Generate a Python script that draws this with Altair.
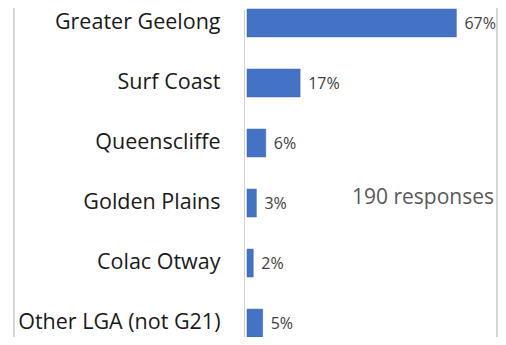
import altair as alt
import pandas as pd

categories = ["Greater Geelong", "Surf Coast", "Queenscliffe", "Golden Plains", "Colac Otway", "Other LGA (not G21)"]
values = [67, 17, 6, 3, 2, 5]
labels = ["67%", "17%", "6%", "3%", "2%", "5%"]
note = "190 responses"

df = pd.DataFrame({"lga": categories, "pct": values, "label": labels})
border_df = pd.DataFrame({"side": ["left", "right"], "px": [-233, 250]})

W, H = 250, 328
FONT = "Open Sans"

y_enc = alt.Y("lga:N", sort=categories,
              scale=alt.Scale(paddingInner=0.535, paddingOuter=0),
              axis=alt.Axis(title=None, ticks=False, labelPadding=24, offset=3,
                            labelFont=FONT, labelFontSize=21.5, labelColor="#1a1a1a",
                            domainColor="#d4d4d4", labelLimit=300))
x_enc = alt.X("pct:Q", scale=alt.Scale(domain=[0, 80], nice=False), axis=None)

bars = alt.Chart(df).mark_bar(color="#4472C4", stroke="#3a66b3", strokeWidth=0.5).encode(x=x_enc, y=y_enc)

text = alt.Chart(df).mark_text(align="left", baseline="middle", dx=8, dy=1,
                               font=FONT, fontSize=16, color="#404040").encode(
    x=alt.X("pct:Q"), y=alt.Y("lga:N", sort=categories), text="label:N")

note_mark = alt.Chart(pd.DataFrame({"t": [note]})).mark_text(
    align="left", baseline="middle", font=FONT, fontSize=21, color="#595959").encode(
    x=alt.value(105), y=alt.value(189), text="t:N")

borders = alt.Chart(border_df).mark_rule(color="#c8c8c8", strokeWidth=1.5).encode(
    x=alt.X("px:Q", scale=None), y=alt.value(-10), y2=alt.value(345))

chart = alt.layer(bars, text, note_mark, borders).properties(
    width=W, height=H,
    autosize=alt.AutoSizeParams(type="none"),
    padding={"left": 239, "top": 1, "right": 1, "bottom": 0},
    background="white",
).configure_view(stroke=None)

chart.save("out.html", embed_options={"renderer": "svg", "actions": False})
